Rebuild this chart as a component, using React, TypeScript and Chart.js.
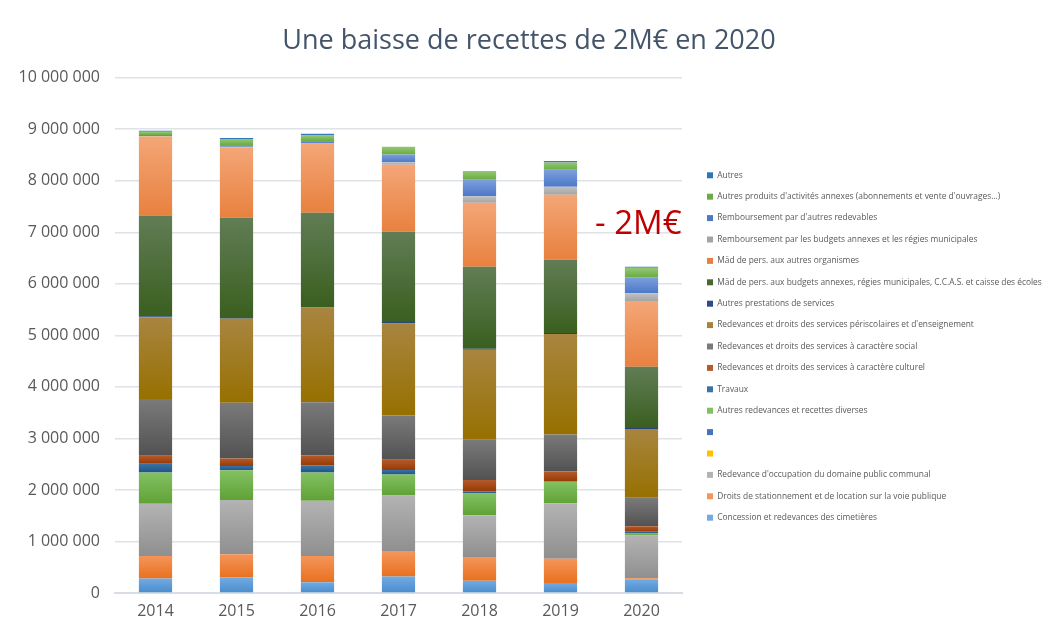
import React, { useEffect, useRef } from "react";
import { Chart, registerables } from "chart.js";

Chart.register(...registerables);

const YEARS = ["2014", "2015", "2016", "2017", "2018", "2019", "2020"];

// Series, bottom of the stack first (values in euros)
const CIMETIERES = [280000, 300000, 210000, 320000, 240000, 195000, 265000];
const STATIONNEMENT = [440000, 450000, 510000, 480000, 460000, 470000, 20000];
const OCCUPATION = [1010000, 1055000, 1070000, 1090000, 810000, 1075000, 830000];
const VIDE_JAUNE = [0, 0, 0, 0, 0, 0, 0];
const VIDE_BLEU = [0, 0, 0, 0, 0, 0, 0];
const AUTRES_REDEVANCES = [610000, 575000, 550000, 410000, 420000, 420000, 47000];
const TRAVAUX = [170000, 85000, 140000, 85000, 45000, 8000, 25000];
const CULTUREL = [155000, 147000, 190000, 200000, 220000, 190000, 110000];
const SOCIAL = [1100000, 1080000, 1030000, 860000, 780000, 720000, 550000];
const PERISCOLAIRE = [1585000, 1630000, 1840000, 1785000, 1745000, 1950000, 1335000];
const AUTRES_PRESTATIONS = [20000, 10000, 10000, 30000, 20000, 20000, 20000];
const MAD_BUDGETS = [1955000, 1950000, 1830000, 1750000, 1590000, 1420000, 1190000];
const MAD_AUTRES = [1535000, 1370000, 1340000, 1300000, 1245000, 1260000, 1274000];
const REMB_BUDGETS = [10000, 10000, 10000, 50000, 125000, 155000, 150000];
const REMB_AUTRES = [20000, 30000, 40000, 150000, 320000, 330000, 310000];
const AUTRES_PRODUITS = [60000, 120000, 110000, 150000, 170000, 140000, 186000];
const AUTRES = [20000, 20000, 30000, 0, 0, 30000, 20000];

const LABELS = [
  "Concession et redevances des cimetières",
  "Droits de stationnement et de location sur la voie publique",
  "Redevance d'occupation du domaine public communal",
  "",
  "",
  "Autres redevances et recettes diverses",
  "Travaux",
  "Redevances et droits des services à caractère culturel",
  "Redevances et droits des services à caractère social",
  "Redevances et droits des services périscolaires et d'enseignement",
  "Autres prestations de services",
  "Mäd de pers. aux budgets annexes, régies municipales, C.C.A.S. et caisse des écoles",
  "Mäd de pers. aux autres organismes",
  "Remboursement par les budgets annexes et les régies municipales",
  "Remboursement par d'autres redevables",
  "Autres produits d'activités annexes (abonnements et vente d'ouvrages...)",
  "Autres",
];

const VALUES = [
  CIMETIERES, STATIONNEMENT, OCCUPATION, VIDE_JAUNE, VIDE_BLEU, AUTRES_REDEVANCES,
  TRAVAUX, CULTUREL, SOCIAL, PERISCOLAIRE, AUTRES_PRESTATIONS, MAD_BUDGETS,
  MAD_AUTRES, REMB_BUDGETS, REMB_AUTRES, AUTRES_PRODUITS, AUTRES,
];

// [legend/base, top of gradient, bottom of gradient]
const COLORS: [string, string, string][] = [
  ["#5b9bd5", "#71abe3", "#4a8ccc"],
  ["#ed7d31", "#f4955a", "#e9711f"],
  ["#a5a5a5", "#b3b3b3", "#8f8f8f"],
  ["#ffc000", "#ffc000", "#ffc000"],
  ["#4472c4", "#4472c4", "#4472c4"],
  ["#70ad47", "#84c062", "#5fa236"],
  ["#255e91", "#3b73a6", "#1f5485"],
  ["#9e480e", "#b45a2b", "#983a04"],
  ["#636363", "#7a7a7a", "#525252"],
  ["#997300", "#a88540", "#977000"],
  ["#264478", "#2b4c86", "#223d6c"],
  ["#43682b", "#617d55", "#3a5f1f"],
  ["#f79646", "#f4a677", "#e8813f"],
  ["#a5a5a5", "#c0c0c0", "#a4a4a4"],
  ["#5b87d6", "#7d9fdc", "#4c78c8"],
  ["#70ad47", "#94c873", "#6bab42"],
  ["#2e75b6", "#3a80c0", "#2e75b6"],
];

const fmt = (v: number) => String(v).replace(/\B(?=(\d{3})+(?!\d))/g, " ");

export default function App() {
  const ref = useRef<HTMLCanvasElement>(null);

  useEffect(() => {
    document.documentElement.style.overflow = "hidden";
    Chart.defaults.font.family = "'Open Sans', sans-serif";

    const makeBg = (d: number) => (ctx: any) => {
      const c = COLORS[d];
      const y = ctx.chart.scales?.y;
      if (ctx.type !== "data" || !y) return c[0];
      const i = ctx.dataIndex;
      let start = 0;
      for (let k = 0; k < d; k++) start += VALUES[k][i];
      const end = start + VALUES[d][i];
      const yTop = y.getPixelForValue(end);
      const yBot = y.getPixelForValue(start);
      if (!(yBot - yTop > 1)) return c[2];
      const g = ctx.chart.ctx.createLinearGradient(0, yTop, 0, yBot);
      g.addColorStop(0, c[1]);
      g.addColorStop(1, c[2]);
      return g;
    };

    const chart = new Chart(ref.current!, {
      type: "bar",
      data: {
        labels: YEARS,
        datasets: VALUES.map((vals, d) => ({
          label: LABELS[d],
          data: vals,
          backgroundColor: makeBg(d),
          borderWidth: 0,
          categoryPercentage: 1,
          barPercentage: 0.41,
        })),
      },
      options: {
        responsive: true,
        maintainAspectRatio: false,
        animation: false,
        layout: { padding: { left: 0, right: 1, top: 0, bottom: 0 } },
        plugins: {
          title: {
            display: true,
            text: "Une baisse de recettes de 2M€ en 2020",
            color: "#44546a",
            font: { size: 27, weight: "normal" },
            padding: { top: 17, bottom: 20.3 },
          },
          legend: {
            position: "right",
            reverse: true,
            maxWidth: 356,
            title: {
              display: true,
              text: " ",
              font: { size: 10 },
              padding: { top: 25, bottom: 25 },
            },
            labels: {
              boxWidth: 6,
              boxHeight: 6,
              padding: 13,
              color: "#595959",
              font: { size: 8.4 },
            },
          },
          tooltip: { enabled: false },
        },
        scales: {
          x: {
            stacked: true,
            grid: { display: false, drawTicks: false },
            border: { display: true, color: "#d9dde3", width: 2 },
            ticks: { color: "#595959", font: { size: 16 }, padding: 9 },
            afterFit: (s: any) => {
              s.height = 30;
            },
          },
          y: {
            stacked: true,
            min: 0,
            max: 10000000,
            border: { display: false },
            grid: { color: "#dfe2e7", lineWidth: 1.5, drawTicks: false },
            ticks: {
              stepSize: 1000000,
              color: "#595959",
              font: { size: 16 },
              padding: 15,
              callback: (v: any) => fmt(Number(v)),
            },
            afterFit: (s: any) => {
              s.width = 107;
            },
          },
          gap: {
            type: "linear",
            axis: "y",
            position: "right",
            display: true,
            grid: { display: false, drawTicks: false },
            border: { display: false },
            ticks: { display: false },
            afterFit: (s: any) => {
              s.width = 12;
            },
          },
        },
      } as any,
    });
    return () => chart.destroy();
  }, []);

  return (
    <div
      style={{
        position: "relative",
        width: 1044,
        height: 616,
        marginLeft: -1,
        marginTop: -1,
        borderTop: "1px solid #dadde3",
        borderLeft: "1px solid #dadde3",
        boxSizing: "border-box",
        background: "#fff",
      }}
    >
      <div style={{ position: "absolute", left: 0, top: 0, width: 1043, height: 615 }}>
        <canvas ref={ref} />
      </div>
      <div
        style={{
          position: "absolute",
          left: 587,
          top: 191,
          font: "33px 'Open Sans', sans-serif",
          color: "#c00000",
          whiteSpace: "nowrap",
        }}
      >
        - 2M€
      </div>
    </div>
  );
}
